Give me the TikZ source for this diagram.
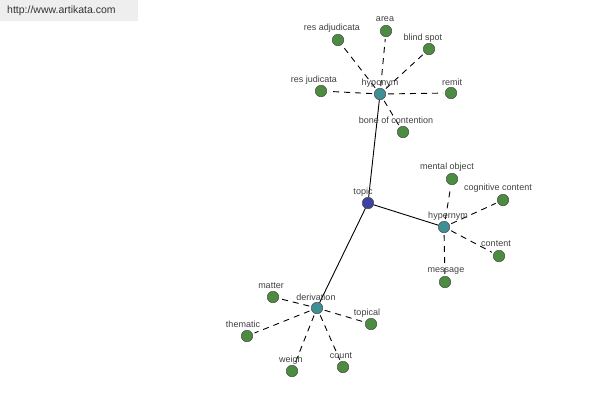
\documentclass[tikz,border=0pt]{standalone}
\usepackage{fontspec}
\setmainfont{Liberation Sans}
\begin{document}
\begin{tikzpicture}[x=1pt,y=-1pt,
  every node/.style={inner sep=0pt},
  leaf/.style={circle,minimum size=11.5pt,fill=leafc,draw=black!70,line width=0.5pt},
  hub/.style={circle,minimum size=11.5pt,fill=hubc,draw=black!70,line width=0.5pt},
  root/.style={circle,minimum size=11.5pt,fill=rootc,draw=black!70,line width=0.5pt},
  lbl/.style={font=\fontsize{9}{10}\selectfont,text=black!75},
  rel/.style={draw=black,line width=0.9pt,dash pattern=on 6pt off 5pt,shorten <=2pt,shorten >=2pt},
  main/.style={draw=black,line width=0.9pt}]
\definecolor{leafc}{HTML}{4C8C40}
\definecolor{hubc}{HTML}{3F9096}
\definecolor{rootc}{HTML}{3C42A0}
\definecolor{hdr}{HTML}{EEEEEE}
\useasboundingbox (0,0) rectangle (600,400);
\fill[hdr] (0,0) rectangle (138,21);
\node[font=\fontsize{10.5}{12}\selectfont,text=black!80,anchor=west] (url) at (7,10.5) {http://www.artikata.com};

% nodes
\node[root] (topic) at (368,203) {};
\node[hub] (hypo) at (380,94) {};
\node[hub] (hyper) at (444,227) {};
\node[hub] (deriv) at (317,308) {};

\node[leaf] (area) at (386,31) {};
\node[leaf] (resadj) at (338,40) {};
\node[leaf] (blind) at (429,49) {};
\node[leaf] (resjud) at (321,91) {};
\node[leaf] (remit) at (451,93) {};
\node[leaf] (bone) at (403,132) {};

\node[leaf] (mental) at (452,179) {};
\node[leaf] (cogn) at (503,200) {};
\node[leaf] (content) at (499,256) {};
\node[leaf] (message) at (445,282) {};

\node[leaf] (matter) at (273,297) {};
\node[leaf] (thematic) at (247,336) {};
\node[leaf] (topical) at (371,324) {};
\node[leaf] (weigh) at (292,371) {};
\node[leaf] (count) at (343,367) {};

% edges
\path[main] (topic) -- (hypo);
\path[main] (topic) -- (hyper);
\path[main] (topic) -- (deriv);
\foreach \a in {area,resadj,blind,resjud,remit,bone}
  \path[rel] (hypo) -- (\a);
\foreach \a in {mental,cogn,content,message}
  \path[rel] (hyper) -- (\a);
\foreach \a in {matter,thematic,topical,weigh,count}
  \path[rel] (deriv) -- (\a);

% labels
\node[lbl] (l-hypo) at (380,83) {hyponym};
\node[lbl] (l-area) at (385,19) {area};
\node[lbl] (l-resadj) at (332,28) {res adjudicata};
\node[lbl] (l-blind) at (423,38) {blind spot};
\node[lbl] (l-resjud) at (314,80) {res judicata};
\node[lbl] (l-remit) at (452,82) {remit};
\node[lbl] (l-bone) at (396,120) {bone of contention};
\node[lbl] (l-topic) at (363,192) {topic};
\node[lbl] (l-hyper) at (448,216) {hypernym};
\node[lbl] (l-mental) at (447,167) {mental object};
\node[lbl] (l-cogn) at (498,188) {cognitive content};
\node[lbl] (l-content) at (496,244) {content};
\node[lbl] (l-message) at (446,271) {message};
\node[lbl] (l-deriv) at (316,297) {derivation};
\node[lbl] (l-matter) at (271,286) {matter};
\node[lbl] (l-thematic) at (243,324) {thematic};
\node[lbl] (l-topical) at (367,313) {topical};
\node[lbl] (l-weigh) at (291,360) {weigh};
\node[lbl] (l-count) at (341,356) {count};
\end{tikzpicture}
\end{document}
